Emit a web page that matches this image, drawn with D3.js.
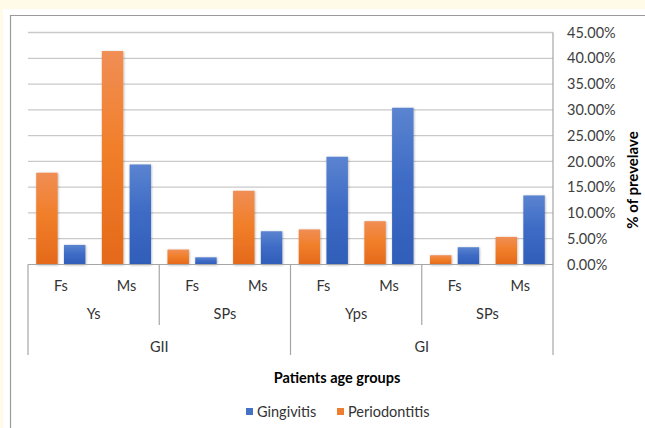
<!DOCTYPE html>
<html>
<head>
<meta charset="utf-8">
<script src="https://cdn.jsdelivr.net/npm/d3@7/dist/d3.min.js"></script>
<style>
  html, body { margin: 0; padding: 0; background: #fffbe8; }
  svg { display: block; }
  text { font-family: Lato, "Open Sans", sans-serif; }
</style>
</head>
<body>
<svg id="chart" width="645" height="428"></svg>
<script>
// Prevalence (%) of gingivitis and periodontitis by patient age group
const ageGroups = ["Fs", "Ms", "Fs", "Ms", "Fs", "Ms", "Fs", "Ms"];
const subGroups = ["Ys", "SPs", "Yps", "SPs"];
const mainGroups = ["GII", "GI"];
const seriesNames = ["Periodontitis", "Gingivitis"];
const periodontitis = [17.8, 41.4, 2.9, 14.3, 6.8, 8.4, 1.8, 5.35];
const gingivitis = [3.8, 19.4, 1.4, 6.45, 20.9, 30.4, 3.35, 13.4];
const yTicks = [0, 5, 10, 15, 20, 25, 30, 35, 40, 45];

const svg = d3.select("#chart");
const plot = { left: 28, right: 553, top: 32.5, bottom: 264.5 };

// panel
svg.append("rect").attr("x", 3).attr("y", 9).attr("width", 642).attr("height", 419).attr("fill", "#ffffff");
svg.append("path").attr("d", "M10.5,428 V15.5 H645").attr("fill", "none").attr("stroke", "#9a9a9a").attr("stroke-width", 1.2);

const defs = svg.append("defs");
function grad(id, top, mid, bottom) {
  const g = defs.append("linearGradient").attr("id", id).attr("x1", 0).attr("y1", 0).attr("x2", 0).attr("y2", 1);
  g.append("stop").attr("offset", "0%").attr("stop-color", top);
  g.append("stop").attr("offset", "45%").attr("stop-color", mid);
  g.append("stop").attr("offset", "100%").attr("stop-color", bottom);
}
grad("gOrange", "#f08e55", "#f17f2a", "#e4691a");
grad("gBlue", "#5b84d0", "#3f6cc6", "#2f5db8");
const sh = defs.append("filter").attr("id", "shadow").attr("x", "-20%").attr("y", "-5%").attr("width", "140%").attr("height", "110%");
sh.append("feDropShadow").attr("dx", 0.6).attr("dy", 0.6).attr("stdDeviation", 0.9).attr("flood-color", "#000").attr("flood-opacity", 0.3);

const x = d3.scaleBand().domain(d3.range(ageGroups.length)).range([plot.left, plot.right]).padding(0);
const xs = d3.scaleBand().domain(seriesNames).range([0, x.bandwidth()]).paddingInner(0.227).paddingOuter(0.296);
const y = d3.scaleLinear().domain([0, 45]).range([plot.bottom, plot.top]);

// gridlines
svg.append("g").selectAll("line").data(yTicks.filter(t => t > 0)).join("line")
  .attr("x1", plot.left).attr("x2", plot.right)
  .attr("y1", d => y(d)).attr("y2", d => y(d))
  .attr("stroke", "#c9c9c9").attr("stroke-width", 1.3);

// right value axis
const yAxis = d3.axisRight(y).tickValues(yTicks).tickSize(0).tickPadding(14)
  .tickFormat(d => d3.format(".2f")(d) + "%");
const ya = svg.append("g").attr("transform", `translate(${plot.right},0)`).call(yAxis);
ya.select(".domain").remove();
ya.selectAll("text").attr("font-size", 14.5).attr("fill", "#404040").attr("font-family", "Lato, sans-serif");

// bars
const rows = ageGroups.map((a, i) => ({ i, Periodontitis: periodontitis[i], Gingivitis: gingivitis[i] }));
const fills = { Periodontitis: "url(#gOrange)", Gingivitis: "url(#gBlue)" };
const barG = svg.append("g").attr("filter", "url(#shadow)");
rows.forEach(r => {
  seriesNames.forEach(s => {
    barG.append("rect")
      .attr("x", x(r.i) + xs(s)).attr("width", xs.bandwidth())
      .attr("y", y(r[s])).attr("height", y(0) - y(r[s]))
      .attr("fill", fills[s]);
  });
});

// axis lines
const axisColor = "#a6a6a6";
svg.append("line").attr("x1", plot.left).attr("x2", plot.right).attr("y1", y(0)).attr("y2", y(0))
  .attr("stroke", axisColor).attr("stroke-width", 1.2);
svg.append("line").attr("x1", plot.right).attr("x2", plot.right).attr("y1", plot.top).attr("y2", 355)
  .attr("stroke", axisColor).attr("stroke-width", 1.2);

// multi-level category axis
const step = x.step();
const subSpan = 2, mainSpan = 4;
d3.range(0, ageGroups.length, subSpan).forEach(k => {
  const isMain = k % mainSpan === 0;
  svg.append("line").attr("x1", plot.left + k * step).attr("x2", plot.left + k * step)
    .attr("y1", y(0)).attr("y2", isMain ? 355 : 325)
    .attr("stroke", axisColor).attr("stroke-width", 1.2);
});

const labelColor = "#333333";
svg.append("g").selectAll("text").data(ageGroups).join("text")
  .attr("x", (d, i) => x(i) + step / 2).attr("y", 285)
  .attr("text-anchor", "middle").attr("dominant-baseline", "central")
  .attr("font-size", 14.5).attr("fill", labelColor).text(d => d);
svg.append("g").selectAll("text").data(subGroups).join("text")
  .attr("x", (d, i) => plot.left + (i + 0.5) * subSpan * step).attr("y", 313)
  .attr("text-anchor", "middle").attr("dominant-baseline", "central")
  .attr("font-size", 14.5).attr("fill", labelColor).text(d => d);
svg.append("g").selectAll("text").data(mainGroups).join("text")
  .attr("x", (d, i) => plot.left + (i + 0.5) * mainSpan * step).attr("y", 346)
  .attr("text-anchor", "middle").attr("dominant-baseline", "central")
  .attr("font-size", 14.5).attr("fill", labelColor).text(d => d);

// axis titles
svg.append("text").attr("x", 337).attr("y", 377).attr("text-anchor", "middle").attr("dominant-baseline", "central")
  .attr("font-size", 14.5).attr("font-weight", "bold").attr("fill", "#000").text("Patients age groups");
svg.append("text").attr("transform", "translate(632,180) rotate(-90)")
  .attr("text-anchor", "middle").attr("dominant-baseline", "central")
  .attr("font-size", 15).attr("font-weight", "bold").attr("fill", "#000").text("% of prevelave");

// legend
const legend = [
  { name: "Gingivitis", color: "#4472c4", x: 246 },
  { name: "Periodontitis", color: "#ed7d31", x: 337 }
];
const lg = svg.append("g");
legend.forEach(l => {
  lg.append("rect").attr("x", l.x).attr("y", 408).attr("width", 7).attr("height", 7).attr("fill", l.color);
  lg.append("text").attr("x", l.x + 11).attr("y", 411.5).attr("dominant-baseline", "central")
    .attr("font-size", 14.5).attr("fill", labelColor).text(l.name);
});
</script>
</body>
</html>
